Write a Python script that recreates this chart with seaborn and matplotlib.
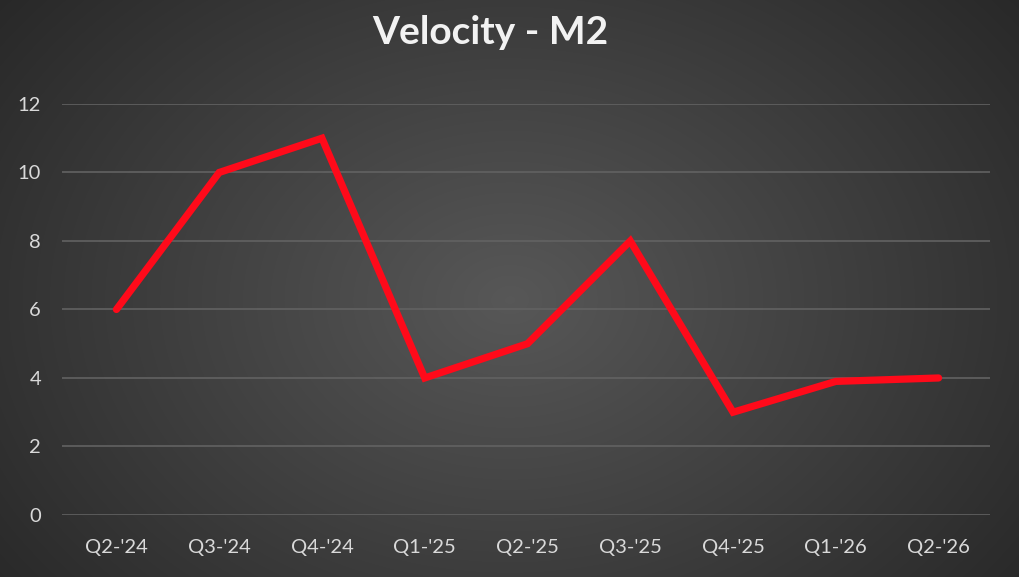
import numpy as np
import pandas as pd
import matplotlib
matplotlib.use("Agg")
import matplotlib.pyplot as plt
import seaborn as sns

quarters = ["Q2-'24", "Q3-'24", "Q4-'24", "Q1-'25", "Q2-'25",
            "Q3-'25", "Q4-'25", "Q1-'26", "Q2-'26"]
velocity = [6, 10, 11, 4, 5, 8, 3, 3.9, 4]
y_ticks = [0, 2, 4, 6, 8, 10, 12]

sns.set_theme(style="dark")
plt.rcParams['font.family'] = ['Lato', 'DejaVu Sans']

df = pd.DataFrame({"quarter": quarters, "velocity": velocity})

fig = plt.figure(figsize=(10.19, 5.77), dpi=100)

# radial gradient background
bg = fig.add_axes([0, 0, 1, 1], zorder=0)
yy, xx = np.mgrid[0:577, 0:1019]
r = np.sqrt(((xx - 510) / 600.0) ** 2 + ((yy - 300) / 450.0) ** 2)
shade = np.clip(0.345 - 0.17 * r, 0.15, 0.345)
bg.imshow(shade, cmap="gray", vmin=0, vmax=1, aspect="auto")
bg.axis("off")

ax = fig.add_axes([0.0608, 0.1075, 0.9107, 0.7123], zorder=1)
ax.patch.set_alpha(0)
sns.lineplot(data=df, x="quarter", y="velocity", ax=ax, sort=False,
             color="#ff0a1a", linewidth=5.2, solid_joinstyle="miter",
             solid_capstyle="round", zorder=3)

ax.set_xlim(-0.53, len(quarters) - 0.5)
ax.set_ylim(0, 12)
ax.set_yticks(y_ticks)
ax.set_yticklabels([str(t) for t in y_ticks])
ax.grid(axis="y", color="#626262", linewidth=1.2)
ax.grid(axis="x", visible=False)
for s in ax.spines.values():
    s.set_visible(False)
ax.tick_params(axis="both", colors="#d9d9d9", labelsize=14.5, length=0)
ax.tick_params(axis="y", pad=15)
ax.tick_params(axis="x", pad=17)
ax.set_xlabel("")
ax.set_ylabel("")

fig.text(0.481, 0.943, "Velocity - M2", ha="center", va="center",
         color="#f2f2f2", fontsize=28, fontweight="bold")

fig.savefig("out.png", dpi=100)
